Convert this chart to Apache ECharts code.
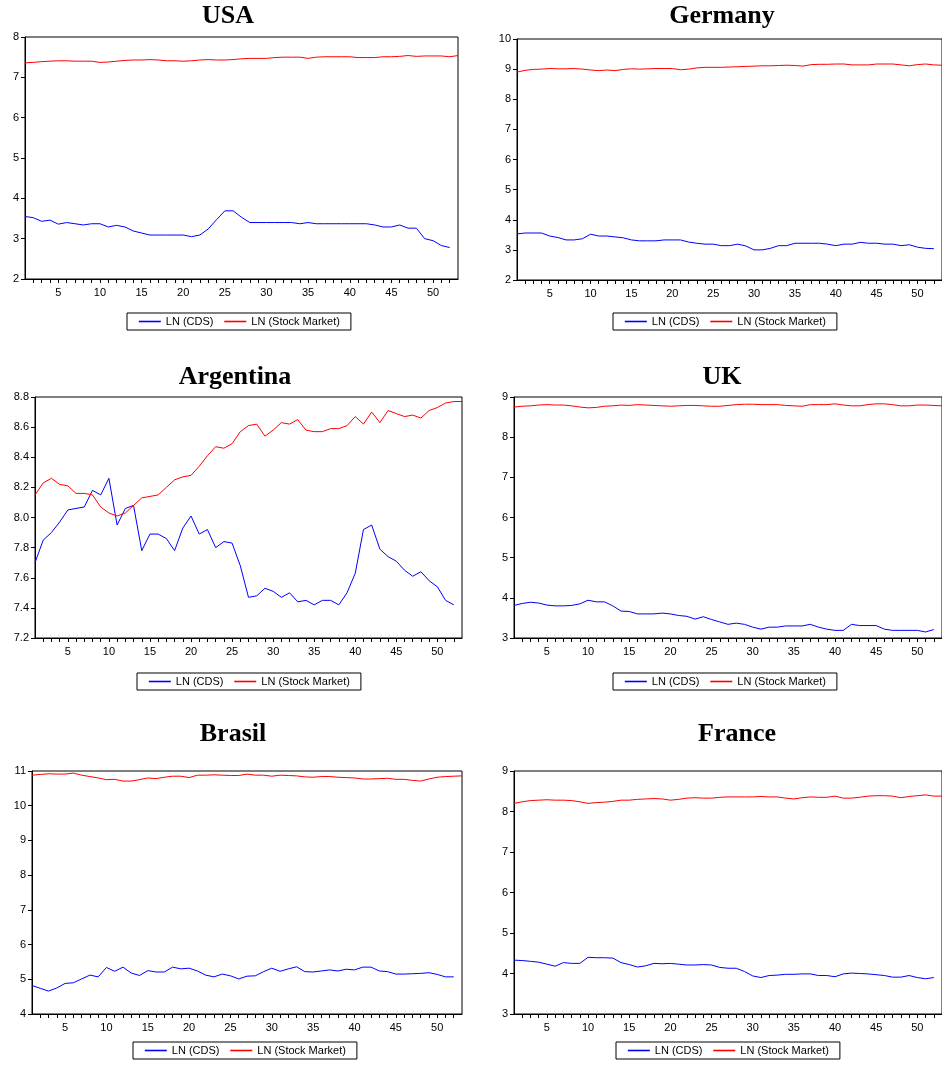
<!DOCTYPE html>
<html>
<head>
<meta charset="utf-8">
<script src="https://cdn.jsdelivr.net/npm/echarts@6/dist/echarts.min.js"></script>
<style>
html,body{margin:0;padding:0;background:#fff;}
#chart{width:942px;height:1071px;}
</style>
</head>
<body>
<div id="chart"></div>
<script>
// ---- data (observation 1..52/53) ----
const panelNames = ['USA', 'Germany', 'Argentina', 'UK', 'Brasil', 'France'];
const seriesNames = ['LN (CDS)', 'LN (Stock Market)'];

const usaCDS = [3.55,3.52,3.43,3.46,3.36,3.40,3.37,3.34,3.37,3.37,3.29,3.33,3.29,3.19,3.14,3.09,3.09,3.09,3.09,3.09,3.05,3.09,3.24,3.47,3.69,3.69,3.53,3.40,3.40,3.40,3.40,3.40,3.40,3.37,3.40,3.37,3.37,3.37,3.37,3.37,3.37,3.37,3.34,3.29,3.29,3.34,3.26,3.26,3.00,2.95,2.83,2.78];
const usaStock = [7.36,7.37,7.39,7.40,7.41,7.41,7.40,7.40,7.40,7.37,7.38,7.40,7.42,7.43,7.43,7.44,7.43,7.41,7.41,7.40,7.41,7.43,7.44,7.43,7.43,7.44,7.46,7.47,7.47,7.47,7.49,7.50,7.50,7.50,7.47,7.50,7.51,7.51,7.51,7.51,7.49,7.49,7.49,7.51,7.51,7.52,7.54,7.52,7.53,7.53,7.53,7.51,7.54];

const gerCDS = [3.53,3.56,3.56,3.56,3.46,3.41,3.33,3.33,3.37,3.52,3.46,3.46,3.43,3.40,3.33,3.30,3.30,3.30,3.33,3.33,3.33,3.26,3.22,3.19,3.19,3.14,3.14,3.19,3.13,3.00,3.00,3.05,3.14,3.14,3.22,3.22,3.22,3.22,3.19,3.14,3.19,3.19,3.25,3.22,3.22,3.19,3.19,3.14,3.17,3.09,3.05,3.04];
const gerStock = [8.90,8.96,8.99,9.00,9.02,9.01,9.01,9.02,9.00,8.97,8.95,8.97,8.95,8.99,9.01,9.00,9.01,9.02,9.02,9.02,8.98,9.00,9.04,9.06,9.06,9.06,9.07,9.08,9.09,9.10,9.11,9.11,9.12,9.13,9.12,9.10,9.15,9.16,9.16,9.17,9.17,9.14,9.14,9.14,9.17,9.17,9.17,9.14,9.11,9.15,9.17,9.14,9.13];

const argCDS = [7.70,7.85,7.90,7.97,8.05,8.06,8.07,8.18,8.15,8.26,7.95,8.06,8.08,7.78,7.89,7.89,7.86,7.78,7.93,8.01,7.89,7.92,7.80,7.84,7.83,7.68,7.47,7.48,7.53,7.51,7.47,7.50,7.44,7.45,7.42,7.45,7.45,7.42,7.50,7.63,7.92,7.95,7.79,7.74,7.71,7.65,7.61,7.64,7.58,7.54,7.45,7.42];
const argStock = [8.15,8.23,8.26,8.22,8.21,8.16,8.16,8.15,8.07,8.03,8.01,8.03,8.08,8.13,8.14,8.15,8.20,8.25,8.27,8.28,8.34,8.41,8.47,8.46,8.49,8.57,8.61,8.62,8.54,8.58,8.63,8.62,8.65,8.58,8.57,8.57,8.59,8.59,8.61,8.67,8.62,8.70,8.63,8.71,8.69,8.67,8.68,8.66,8.71,8.73,8.76,8.77,8.77];

const ukCDS = [3.81,3.86,3.89,3.87,3.82,3.80,3.80,3.81,3.85,3.94,3.90,3.90,3.80,3.67,3.66,3.60,3.60,3.60,3.62,3.60,3.56,3.54,3.47,3.53,3.46,3.40,3.34,3.37,3.34,3.27,3.22,3.27,3.27,3.30,3.30,3.30,3.34,3.27,3.22,3.19,3.19,3.34,3.31,3.31,3.31,3.22,3.19,3.19,3.19,3.19,3.15,3.21];
const ukStock = [8.75,8.77,8.78,8.80,8.81,8.80,8.80,8.78,8.75,8.73,8.74,8.77,8.78,8.80,8.79,8.81,8.80,8.79,8.78,8.77,8.78,8.79,8.79,8.78,8.77,8.77,8.79,8.81,8.82,8.82,8.81,8.81,8.81,8.79,8.78,8.77,8.81,8.81,8.81,8.83,8.80,8.78,8.78,8.81,8.83,8.83,8.81,8.78,8.78,8.80,8.80,8.79,8.78];

const braCDS = [4.82,4.74,4.66,4.75,4.88,4.90,5.01,5.12,5.07,5.34,5.23,5.35,5.18,5.11,5.25,5.21,5.21,5.35,5.30,5.32,5.24,5.12,5.07,5.15,5.10,5.01,5.09,5.10,5.22,5.32,5.23,5.30,5.36,5.22,5.21,5.24,5.27,5.24,5.29,5.27,5.35,5.35,5.24,5.22,5.15,5.15,5.16,5.17,5.19,5.14,5.07,5.07];
const braStock = [10.88,10.90,10.92,10.91,10.91,10.94,10.88,10.84,10.80,10.75,10.76,10.71,10.71,10.75,10.80,10.78,10.82,10.85,10.85,10.81,10.88,10.88,10.89,10.88,10.87,10.87,10.91,10.88,10.88,10.85,10.88,10.87,10.86,10.83,10.82,10.84,10.84,10.82,10.81,10.80,10.77,10.77,10.78,10.79,10.76,10.76,10.73,10.71,10.77,10.82,10.84,10.85,10.86];

const fraCDS = [4.33,4.32,4.30,4.28,4.23,4.18,4.27,4.25,4.25,4.40,4.39,4.39,4.38,4.27,4.22,4.16,4.19,4.25,4.24,4.25,4.23,4.21,4.21,4.22,4.21,4.15,4.13,4.13,4.05,3.94,3.90,3.95,3.96,3.98,3.98,3.99,3.99,3.95,3.95,3.92,3.99,4.01,4.00,3.99,3.97,3.95,3.91,3.91,3.95,3.90,3.87,3.90];
const fraStock = [8.20,8.24,8.27,8.28,8.29,8.28,8.28,8.27,8.24,8.20,8.22,8.23,8.25,8.28,8.28,8.30,8.31,8.32,8.31,8.28,8.30,8.33,8.34,8.33,8.33,8.35,8.36,8.36,8.36,8.36,8.37,8.36,8.36,8.33,8.31,8.34,8.36,8.35,8.35,8.38,8.33,8.33,8.35,8.38,8.39,8.39,8.38,8.34,8.37,8.39,8.41,8.38,8.38];

const yMin = [2, 2, 7.2, 3, 4, 3];
const yMax = [8, 10, 8.8, 9, 11, 9];
const yStep = [1, 1, 0.2, 1, 1, 1];
const xTickLabels = [5, 10, 15, 20, 25, 30, 35, 40, 45, 50];

const cdsData = [usaCDS, gerCDS, argCDS, ukCDS, braCDS, fraCDS];
const stockData = [usaStock, gerStock, argStock, ukStock, braStock, fraStock];
const lineColors = ['#0000ff', '#ff0000'];

// ---- layout ----
const grids = [
  {left: 25, top: 37, width: 433, height: 242},
  {left: 517, top: 39, width: 430, height: 241},
  {left: 35, top: 397, width: 427, height: 241},
  {left: 514, top: 397, width: 432, height: 241},
  {left: 32, top: 771, width: 430, height: 243},
  {left: 514, top: 771, width: 432, height: 243}
];
const titlePos = [[228, 16], [722, 16], [235, 377], [722, 377], [233, 734], [737, 734]];
const legendPos = [[127, 313], [613, 313], [137, 673], [613, 673], [133, 1042], [616, 1042]];

const FONT = 'Liberation Sans, Arial, sans-serif';
const toXY = arr => arr.map((v, i) => [i + 1, v]);

const option = {
  animation: false,
  backgroundColor: '#fff',
  grid: grids.map(g => Object.assign({show: true, borderColor: '#000', borderWidth: 1, backgroundColor: 'transparent'}, g)),
  xAxis: grids.map((g, k) => ({
    type: 'value', gridIndex: k, min: 1, max: 53, interval: 1,
    axisLine: {show: true, lineStyle: {color: '#000', width: 1}},
    axisTick: {show: true, length: 4, lineStyle: {color: '#000'}},
    splitLine: {show: false},
    axisLabel: {
      show: true, color: '#000', fontFamily: FONT, fontSize: 11, margin: 8,
      showMinLabel: false, showMaxLabel: false,
      formatter: v => (xTickLabels.indexOf(Math.round(v)) >= 0 && Math.abs(v - Math.round(v)) < 1e-6) ? String(Math.round(v)) : ''
    }
  })),
  yAxis: grids.map((g, k) => ({
    type: 'value', gridIndex: k, min: yMin[k], max: yMax[k], interval: yStep[k],
    axisLine: {show: true, lineStyle: {color: '#000', width: 1}},
    axisTick: {show: true, length: 4, lineStyle: {color: '#000'}},
    splitLine: {show: false},
    axisLabel: {
      color: '#000', fontFamily: FONT, fontSize: 11, margin: 6,
      formatter: v => yStep[k] < 1 ? v.toFixed(1) : String(Math.round(v))
    }
  })),
  legend: legendPos.map(p => ({
    left: p[0], top: p[1],
    data: seriesNames.map((n, j) => ({
      name: n,
      itemStyle: {color: lineColors[j], opacity: 0},
      lineStyle: {color: lineColors[j], width: 1.6, opacity: 1}
    })),
    itemWidth: 22, itemHeight: 10, itemGap: 10,
    borderColor: '#000', borderWidth: 1, padding: [3, 11],
    textStyle: {fontFamily: FONT, fontSize: 11, color: '#000'},
    selectedMode: false
  })),
  graphic: panelNames.map((n, k) => ({
    type: 'text', x: titlePos[k][0], y: titlePos[k][1],
    style: {text: n, fill: '#000', font: 'bold 26px "Liberation Serif", "Times New Roman", serif', textAlign: 'center', textVerticalAlign: 'middle'}
  })),
  series: []
};

for (let k = 0; k < 6; k++) {
  option.series.push({
    name: seriesNames[0], type: 'line', xAxisIndex: k, yAxisIndex: k,
    data: toXY(cdsData[k]), symbol: 'none', silent: true,
    lineStyle: {color: lineColors[0], width: 1}, itemStyle: {color: lineColors[0]}
  });
  option.series.push({
    name: seriesNames[1], type: 'line', xAxisIndex: k, yAxisIndex: k,
    data: toXY(stockData[k]), symbol: 'none', silent: true,
    lineStyle: {color: lineColors[1], width: 1}, itemStyle: {color: lineColors[1]}
  });
}

const chart = echarts.init(document.getElementById('chart'), null, {renderer: 'canvas'});
chart.setOption(option);
</script>
</body>
</html>
